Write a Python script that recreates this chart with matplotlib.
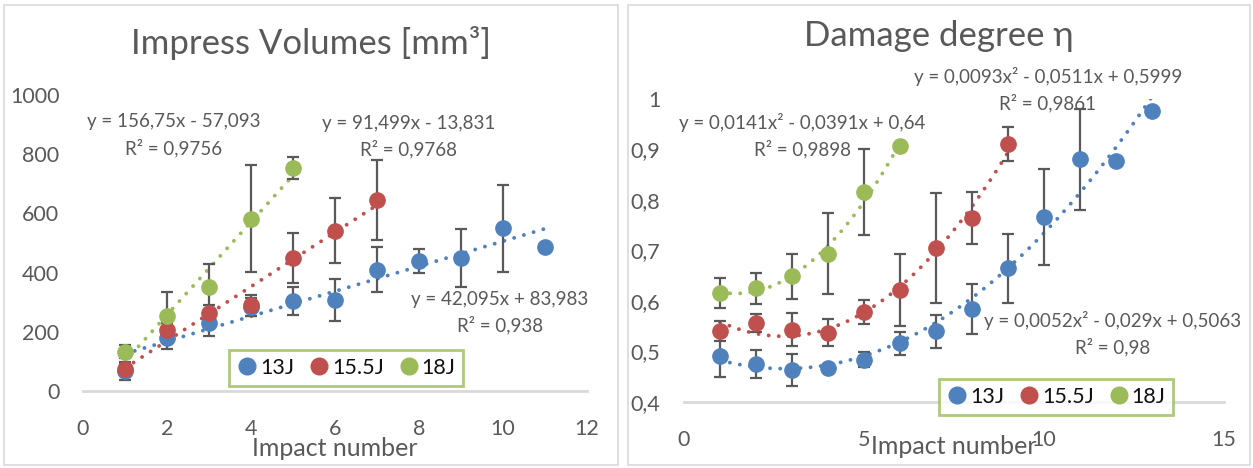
import numpy as np
import matplotlib
matplotlib.use('Agg')
import matplotlib.pyplot as plt
from matplotlib.patches import Rectangle
from matplotlib.lines import Line2D

plt.rcParams['font.family'] = ['Lato', 'DejaVu Sans']

# colours (Excel 2010 palette)
c13 = '#4f81bd'
c155 = '#c0504d'
c18 = '#9bbb59'
grey = '#595959'

# --- impress volumes [mm3]
vol_x13 = [1, 2, 3, 4, 5, 6, 7, 8, 9, 10, 11]
vol_y13 = [67, 180, 230, 284, 304, 307, 410, 440, 450, 549, 486]
vol_e13 = [30, 38, 45, 30, 46, 71, 75, 40, 97, 147, 0]
vol_x155 = [1, 2, 3, 4, 5, 6, 7]
vol_y155 = [75, 205, 264, 289, 450, 541, 645]
vol_e155 = [20, 25, 25, 35, 85, 110, 135]
vol_x18 = [1, 2, 3, 4, 5]
vol_y18 = [132, 254, 350, 582, 753]
vol_e18 = [22, 80, 80, 180, 37]

# --- damage degree eta
dmg_x13 = [1, 2, 3, 4, 5, 6, 7, 8, 9, 10, 11, 12, 13]
dmg_y13 = [0.492, 0.475, 0.464, 0.467, 0.484, 0.516, 0.540, 0.584, 0.665, 0.767, 0.881, 0.877, 0.977]
dmg_e13 = [0.042, 0.027, 0.032, 0.0, 0.015, 0.022, 0.033, 0.049, 0.068, 0.095, 0.10, 0.0, 0.0]
dmg_x155 = [1, 2, 3, 4, 5, 6, 7, 8, 9]
dmg_y155 = [0.540, 0.556, 0.543, 0.537, 0.578, 0.622, 0.705, 0.764, 0.911]
dmg_e155 = [0.02, 0.018, 0.033, 0.027, 0.024, 0.072, 0.109, 0.052, 0.034]
dmg_x18 = [1, 2, 3, 4, 5, 6]
dmg_y18 = [0.616, 0.625, 0.649, 0.694, 0.816, 0.906]
dmg_e18 = [0.029, 0.03, 0.045, 0.081, 0.085, 0.0]

vol_labels = [('y = 42,095x + 83,983', 'R² = 0,938'),
              ('y = 91,499x - 13,831', 'R² = 0,9768'),
              ('y = 156,75x - 57,093', 'R² = 0,9756')]
dmg_labels = [('y = 0,0052x² - 0,029x + 0,5063', 'R² = 0,98'),
              ('y = 0,0093x² - 0,0511x + 0,5999', 'R² = 0,9861'),
              ('y = 0,0141x² - 0,0391x + 0,64', 'R² = 0,9898')]

W, H = 1253, 468
fig = plt.figure(figsize=(W / 100, H / 100), dpi=100)

def px(x, y):
    return x / W, 1 - y / H

# panel borders
for x0, x1 in [(4, 618), (628, 1250)]:
    fig.patches.append(Rectangle(px(x0, 465), (x1 - x0) / W, 460 / H, transform=fig.transFigure,
                                 fill=False, ec='#d9d9d9', lw=1.2))

ax1 = fig.add_axes([83 / W, 1 - 391 / H, 504 / W, 296 / H])
ax2 = fig.add_axes([684 / W, 1 - 402 / H, 540 / W, 303 / H])

def series(ax, x, y, e, col, deg):
    x = np.array(x)
    y = np.array(y)
    coef = np.polyfit(x, y, deg)
    xs = np.linspace(x.min(), x.max(), 200)
    ax.plot(xs, np.polyval(coef, xs), color=col, lw=2.8, ls=(0, (0.01, 2.6)),
            dash_capstyle='round', zorder=2)
    ax.errorbar(x, y, yerr=e, fmt='none', ecolor=grey, elinewidth=1.6, capsize=4.5,
                capthick=1.6, zorder=3)
    ax.plot(x, y, 'o', color=col, ms=11, zorder=4)

series(ax1, vol_x13, vol_y13, vol_e13, c13, 1)
series(ax1, vol_x155, vol_y155, vol_e155, c155, 1)
series(ax1, vol_x18, vol_y18, vol_e18, c18, 1)
series(ax2, dmg_x13, dmg_y13, dmg_e13, c13, 2)
series(ax2, dmg_x155, dmg_y155, dmg_e155, c155, 2)
series(ax2, dmg_x18, dmg_y18, dmg_e18, c18, 2)

ax1.set_xlim(0, 12)
ax1.set_ylim(0, 1000)
ax1.set_xticks(range(0, 13, 2))
ax1.set_yticks(range(0, 1001, 200))
ax2.set_xlim(0, 15)
ax2.set_ylim(0.4, 1.0)
ax2.set_xticks([0, 5, 10, 15])
ax2.set_yticks([0.4, 0.5, 0.6, 0.7, 0.8, 0.9, 1.0])
ax2.set_yticklabels(['0,4', '0,5', '0,6', '0,7', '0,8', '0,9', '1'])

for ax in (ax1, ax2):
    ax.set_facecolor('none')
    for s in ('top', 'right', 'left'):
        ax.spines[s].set_visible(False)
    ax.spines['bottom'].set_color('#d9d9d9')
    ax.spines['bottom'].set_linewidth(2)
    ax.tick_params(length=0, labelsize=15.5, labelcolor=grey, pad=17)
    ax.tick_params(axis='x', pad=20)

# titles and axis labels
fig.text(*px(311, 43), 'Impress Volumes [mm³]', ha='center', va='center', fontsize=25, color=grey)
fig.text(*px(939, 36), 'Damage degree η', ha='center', va='center', fontsize=25, color=grey)
fig.text(*px(335, 448), 'Impact number', ha='center', va='center', fontsize=18, color=grey)
fig.text(*px(954, 447), 'Impact number', ha='center', va='center', fontsize=18, color=grey)

# trendline equations
vol_pos = [(500, 299), (409, 123), (174, 122)]
dmg_pos = [(1113, 321), (1048, 77), (802, 123)]
for (eq, r2), (x, y) in list(zip(vol_labels, vol_pos)) + list(zip(dmg_labels, dmg_pos)):
    fig.text(*px(x, y), eq, ha='center', va='center', fontsize=13.5, color=grey)
    fig.text(*px(x, y + 26), r2, ha='center', va='center', fontsize=13.5, color=grey)

# legends
handles = [Line2D([], [], ls='none', marker='o', ms=12, color=c) for c in (c13, c155, c18)]
names = ['13J', '15.5J', '18J']
for ax, (cx, cy) in [(ax1, (346, 368)), (ax2, (1056, 397))]:
    leg = ax.legend(handles, names, ncol=3, loc='center', bbox_to_anchor=px(cx, cy),
                    bbox_transform=fig.transFigure, fontsize=15.5, frameon=True, fancybox=False,
                    handletextpad=0.1, columnspacing=0.65, handlelength=1.0, borderpad=0.35,
                    borderaxespad=0)
    leg.get_frame().set_edgecolor(c18)
    leg.get_frame().set_linewidth(2)
    for t in leg.get_texts():
        t.set_color('#111111')
    leg.set_zorder(5)

fig.savefig('out.png', dpi=100)
